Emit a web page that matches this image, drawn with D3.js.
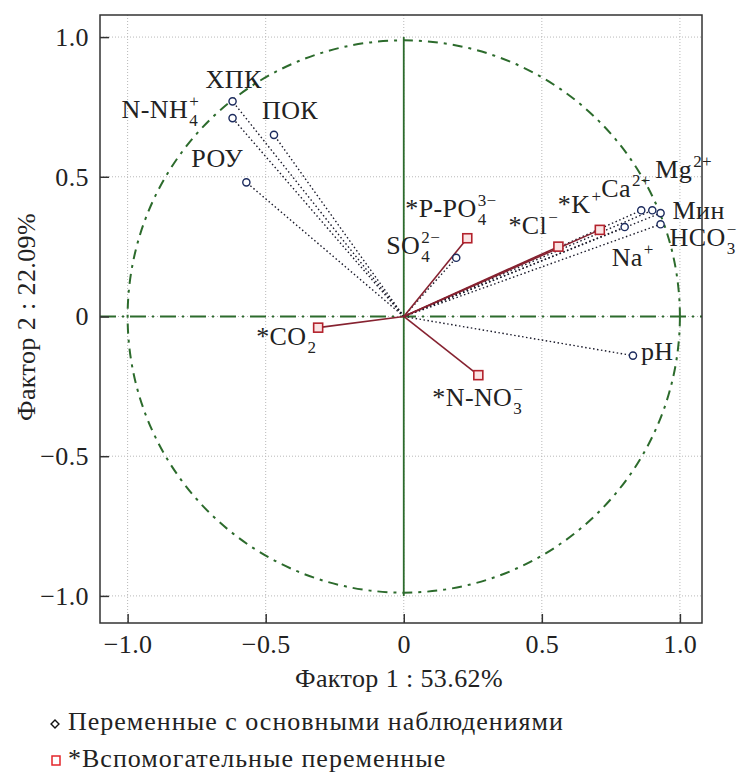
<!DOCTYPE html>
<meta charset="utf-8">
<style>
body { margin: 0; background: #fff; }
text { font-family: "Liberation Serif", "Times New Roman", serif; fill: #222; letter-spacing: 0.4px; }
.grid line { stroke: #b8b8b8; stroke-width: 1; stroke-dasharray: 1 2; }
.axis text { font-size: 26px; }
.axis line { stroke: #333; stroke-width: 1.5; }
</style>
<body>
<script src="https://cdn.jsdelivr.net/npm/d3@7"></script>
<script>

// loadings of the variables used in the PCA
const primaryNames = ["ХПК", "N-NH4+", "ПОК", "РОУ", "SO42−", "Mg2+", "Ca2+", "Мин", "HCO3−", "Na+", "pH"];
const primaryF1    = [-0.62, -0.62, -0.47, -0.57, 0.19, 0.90, 0.86, 0.93, 0.93, 0.80, 0.83];
const primaryF2    = [ 0.77,  0.71,  0.65,  0.48, 0.21, 0.38, 0.38, 0.37, 0.33, 0.32, -0.14];

// supplementary variables
const supplNames = ["*K+", "*Cl−", "*P-PO43−", "*N-NO3−", "*CO2"];
const supplF1    = [0.71, 0.56, 0.23, 0.27, -0.31];
const supplF2    = [0.31, 0.25, 0.28, -0.21, -0.04];

const tickValues = [-1, -0.5, 0, 0.5, 1];
const xTitle = "Фактор 1 : 53.62%";
const yTitle = "Фактор 2 : 22.09%";
const legendLabels = ["Переменные с основными наблюдениями", "*Вспомогательные переменные"];

// how each name is typeset: base text, subscript, superscript
var fmt = {
  "ХПК": {base: "ХПК"}, "N-NH4+": {base: "N-NH", sub: "4", sup: "+"}, "ПОК": {base: "ПОК"},
  "РОУ": {base: "РОУ"}, "SO42−": {base: "SO", sub: "4", sup: "2−"}, "Mg2+": {base: "Mg", sup: "2+"},
  "Ca2+": {base: "Ca", sup: "2+"}, "Мин": {base: "Мин"}, "HCO3−": {base: "HCO", sub: "3", sup: "−"},
  "Na+": {base: "Na", sup: "+"}, "pH": {base: "pH"}, "*K+": {base: "*K", sup: "+"},
  "*Cl−": {base: "*Cl", sup: "−"}, "*P-PO43−": {base: "*P-PO", sub: "4", sup: "3−"},
  "*N-NO3−": {base: "*N-NO", sub: "3", sup: "−"}, "*CO2": {base: "*CO", sub: "2"}
};
// label offsets from the marker (px)
var off = {
  "ХПК": [-27, -13], "N-NH4+": [-111, 0], "ПОК": [-12, -16], "РОУ": [-55, -15], "SO42−": [-70, -4],
  "Mg2+": [3, -32], "Ca2+": [-40, -13], "Мин": [12, 6], "HCO3−": [9, 22], "Na+": [-13, 39],
  "pH": [8, 4], "*K+": [-42, -17], "*Cl−": [-50, -13], "*P-PO43−": [-62, -21],
  "*N-NO3−": [-46, 31], "*CO2": [-62, 17]
};

var W = 741, H = 773;
var box = {left: 100, right: 702, top: 15, bottom: 623};

var x = d3.scaleLinear().domain([-1.1, 1.08]).range([box.left, box.right]);
var y = d3.scaleLinear().domain([-1.097, 1.079]).range([box.bottom, box.top]);

var svg = d3.select("body").append("svg").attr("width", W).attr("height", H);

// grid
var grid = svg.append("g").attr("class", "grid");
grid.selectAll(".gx").data(tickValues).enter().append("line")
  .attr("x1", d => x(d)).attr("x2", d => x(d)).attr("y1", box.top).attr("y2", box.bottom);
grid.selectAll(".gy").data(tickValues).enter().append("line")
  .attr("y1", d => y(d)).attr("y2", d => y(d)).attr("x1", box.left).attr("x2", box.right);

// unit circle and axes through origin
var green = "#2c6b2c";
svg.append("circle")
  .attr("cx", x(0)).attr("cy", y(0)).attr("r", x(1) - x(0))
  .attr("fill", "none").attr("stroke", green).attr("stroke-width", 2)
  .attr("stroke-dasharray", "10 6 3 6");
svg.append("line")
  .attr("x1", box.left).attr("x2", box.right).attr("y1", y(0)).attr("y2", y(0))
  .attr("stroke", green).attr("stroke-width", 2).attr("stroke-dasharray", "16 6 2 6");
svg.append("line")
  .attr("x1", x(0)).attr("x2", x(0)).attr("y1", y(1)).attr("y2", y(-1))
  .attr("stroke", green).attr("stroke-width", 1.8);

// frame
svg.append("rect")
  .attr("x", box.left).attr("y", box.top)
  .attr("width", box.right - box.left).attr("height", box.bottom - box.top)
  .attr("fill", "none").attr("stroke", "#333").attr("stroke-width", 1.5);

var fmtTick = d => d === 0 ? "0" : (d < 0 ? "\u2212" : "") + Math.abs(d).toFixed(1);

svg.append("g").attr("class", "axis")
  .attr("transform", "translate(0," + box.bottom + ")")
  .call(d3.axisBottom(x).tickValues(tickValues).tickFormat(fmtTick)
    .tickSizeInner(-9).tickSizeOuter(0).tickPadding(12))
  .call(g => g.select(".domain").remove());

svg.append("g").attr("class", "axis")
  .attr("transform", "translate(" + box.left + ",0)")
  .call(d3.axisLeft(y).tickValues(tickValues).tickFormat(fmtTick)
    .tickSizeInner(-9).tickSizeOuter(0).tickPadding(11))
  .call(g => g.select(".domain").remove());

svg.selectAll(".axis text").attr("fill", "#222");

svg.append("text")
  .attr("x", 399).attr("y", 687)
  .attr("text-anchor", "middle").attr("font-size", 26)
  .text(xTitle);

svg.append("text")
  .attr("transform", "translate(35,317) rotate(-90)")
  .attr("text-anchor", "middle").attr("font-size", 26)
  .text(yTitle);

// vectors
var primary = primaryNames.map((n, i) => ({name: n, f1: primaryF1[i], f2: primaryF2[i]}));
var suppl = supplNames.map((n, i) => ({name: n, f1: supplF1[i], f2: supplF2[i]}));

svg.append("g").selectAll("line").data(primary).enter().append("line")
  .attr("x1", x(0)).attr("y1", y(0))
  .attr("x2", d => x(d.f1)).attr("y2", d => y(d.f2))
  .attr("stroke", "#1a1a2a").attr("stroke-width", 1.4).attr("stroke-dasharray", "1.5 2.5");

svg.append("g").selectAll("line").data(suppl).enter().append("line")
  .attr("x1", x(0)).attr("y1", y(0))
  .attr("x2", d => x(d.f1)).attr("y2", d => y(d.f2))
  .attr("stroke", "#862230").attr("stroke-width", 1.6);

svg.append("g").selectAll("circle").data(primary).enter().append("circle")
  .attr("cx", d => x(d.f1)).attr("cy", d => y(d.f2)).attr("r", 3.6)
  .attr("fill", "#fff").attr("stroke", "#1c2b5e").attr("stroke-width", 1.4);

svg.append("g").selectAll("rect").data(suppl).enter().append("rect")
  .attr("x", d => x(d.f1) - 4.5).attr("y", d => y(d.f2) - 4.5)
  .attr("width", 9).attr("height", 9)
  .attr("fill", "#fbe4e4").attr("stroke", "#b3222c").attr("stroke-width", 1.6);

// labels with sub/superscripts
function label(d) {
  var f = fmt[d.name], o = off[d.name];
  var lx = x(d.f1) + o[0], ly = y(d.f2) + o[1];
  var t = svg.append("text").attr("x", lx).attr("y", ly).attr("font-size", 26).text(f.base);
  var w = t.node().getComputedTextLength();
  if (f.sub) svg.append("text").attr("x", lx + w + 1).attr("y", ly + 8).attr("font-size", 17).text(f.sub);
  if (f.sup) svg.append("text").attr("x", lx + w + 1).attr("y", ly - 11).attr("font-size", 17).text(f.sup);
}
primary.forEach(label);
suppl.forEach(label);

// legend
svg.append("path")
  .attr("d", d3.symbol().type(d3.symbolDiamond2).size(40)())
  .attr("transform", "translate(55,724)")
  .attr("fill", "#fff").attr("stroke", "#111").attr("stroke-width", 1.4);
svg.append("rect")
  .attr("x", 52).attr("y", 756).attr("width", 8).attr("height", 9)
  .attr("fill", "#fff").attr("stroke", "#e3262b").attr("stroke-width", 1.5);
svg.selectAll(".leg").data(legendLabels).enter().append("text")
  .attr("x", 68).attr("y", (d, i) => 730 + i * 37)
  .attr("font-size", 26).style("letter-spacing", "1px")
  .text(d => d);

</script>
